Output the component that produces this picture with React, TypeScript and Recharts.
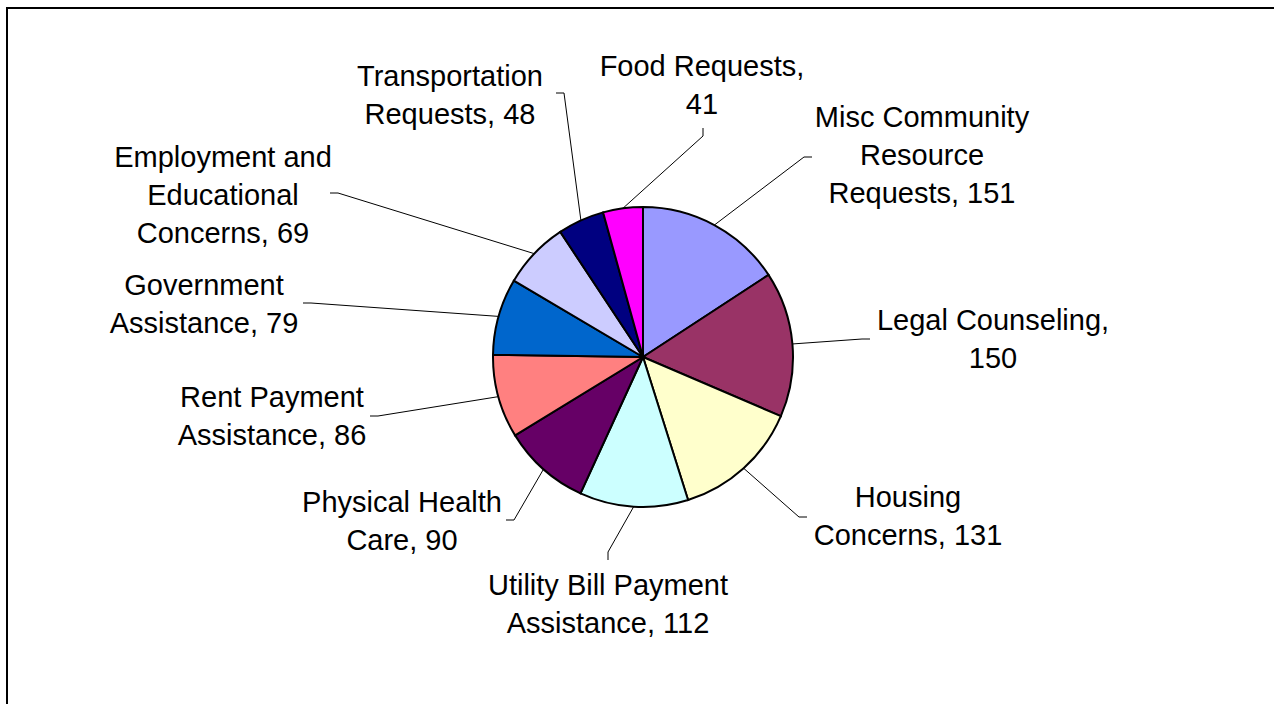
import { PieChart, Pie, Cell } from 'recharts';

const categories = [
  'Misc Community\nResource\nRequests',
  'Legal Counseling',
  'Housing\nConcerns',
  'Utility Bill Payment\nAssistance',
  'Physical Health\nCare',
  'Rent Payment\nAssistance',
  'Government\nAssistance',
  'Employment and\nEducational\nConcerns',
  'Transportation\nRequests',
  'Food Requests',
];
const requests = [151, 150, 131, 112, 90, 86, 79, 69, 48, 41];
const colors = ['#9999FF', '#993366', '#FFFFCC', '#CCFFFF', '#660066', '#FF8080', '#0066CC', '#CCCCFF', '#000080', '#FF00FF'];

// label placement relative to pie centre: text centre x / first baseline y, leader attach point, side of label the line enters
const labelLayout = [
  { dx: 279, dy: -230, ax: 169, ay: -200, side: 'left', valueLine: false },
  { dx: 350, dy: -27, ax: 227, ay: -18, side: 'left', valueLine: true },
  { dx: 265, dy: 150, ax: 164, ay: 160, side: 'left', valueLine: false },
  { dx: -35, dy: 238, ax: -35, ay: 203, side: 'top', valueLine: false },
  { dx: -241, dy: 155, ax: -137, ay: 163, side: 'right', valueLine: false },
  { dx: -371, dy: 50, ax: -273, ay: 59, side: 'right', valueLine: false },
  { dx: -439, dy: -62, ax: -340, ay: -54, side: 'right', valueLine: false },
  { dx: -420, dy: -190, ax: -313, ay: -164, side: 'right', valueLine: false },
  { dx: -193, dy: -271, ax: -87, ay: -264, side: 'right', valueLine: false },
  { dx: 59, dy: -281, ax: 60, ay: -229, side: 'bottom', valueLine: true },
];

const data = categories.map((name, i) => ({ name, value: requests[i] }));

const FONT = "'Liberation Sans', Arial, sans-serif";
const RAD = Math.PI / 180;

function renderLabel(props: any) {
  const { cx, cy, midAngle, outerRadius, index, value, name } = props;
  const lay = labelLayout[index];
  const ex = cx + outerRadius * Math.cos(-midAngle * RAD);
  const ey = cy + outerRadius * Math.sin(-midAngle * RAD);
  const ax = cx + lay.ax;
  const ay = cy + lay.ay;
  const gap = 8;
  let bx = ax, by = ay;
  if (lay.side === 'left') bx = ax - gap;
  if (lay.side === 'right') bx = ax + gap;
  if (lay.side === 'top') by = ay - gap;
  if (lay.side === 'bottom') by = ay + gap;
  const parts = String(name).split('\n');
  const lines: string[] = lay.valueLine
    ? [...parts.slice(0, -1), parts[parts.length - 1] + ',', String(value)]
    : parts.map((l, i) => (i === parts.length - 1 ? `${l}, ${value}` : l));
  return (
    <g key={`lbl-${index}`}>
      <polyline points={`${ex},${ey} ${bx},${by} ${ax},${ay}`} fill="none" stroke="#000" strokeWidth={1} />
      <text x={cx + lay.dx} y={cy + lay.dy} textAnchor="middle" fontFamily={FONT} fontSize={29} fill="#000">
        {lines.map((l, i) => (
          <tspan key={i} x={cx + lay.dx} dy={i === 0 ? 0 : 38}>{l}</tspan>
        ))}
      </text>
    </g>
  );
}

export default function App() {
  return (
    <div style={{ position: 'fixed', left: 0, top: 0, width: 1274, height: 704, overflow: 'hidden', background: '#fff' }}>
      <div style={{ position: 'absolute', left: 6, top: 7, width: 1300, height: 760, border: '2px solid #000', boxSizing: 'border-box' }} />
      <div style={{ position: 'absolute', left: 0, top: 0 }}>
        <PieChart width={1274} height={704} margin={{ top: 0, right: 0, bottom: 0, left: 0 }}>
          <Pie
            data={data}
            dataKey="value"
            nameKey="name"
            cx={643}
            cy={357}
            outerRadius={150}
            startAngle={90}
            endAngle={-270}
            stroke="#000"
            strokeWidth={2}
            label={renderLabel}
            labelLine={false}
            isAnimationActive={false}
          >
            {data.map((d, i) => (
              <Cell key={d.name} fill={colors[i]} />
            ))}
          </Pie>
        </PieChart>
      </div>
    </div>
  );
}
